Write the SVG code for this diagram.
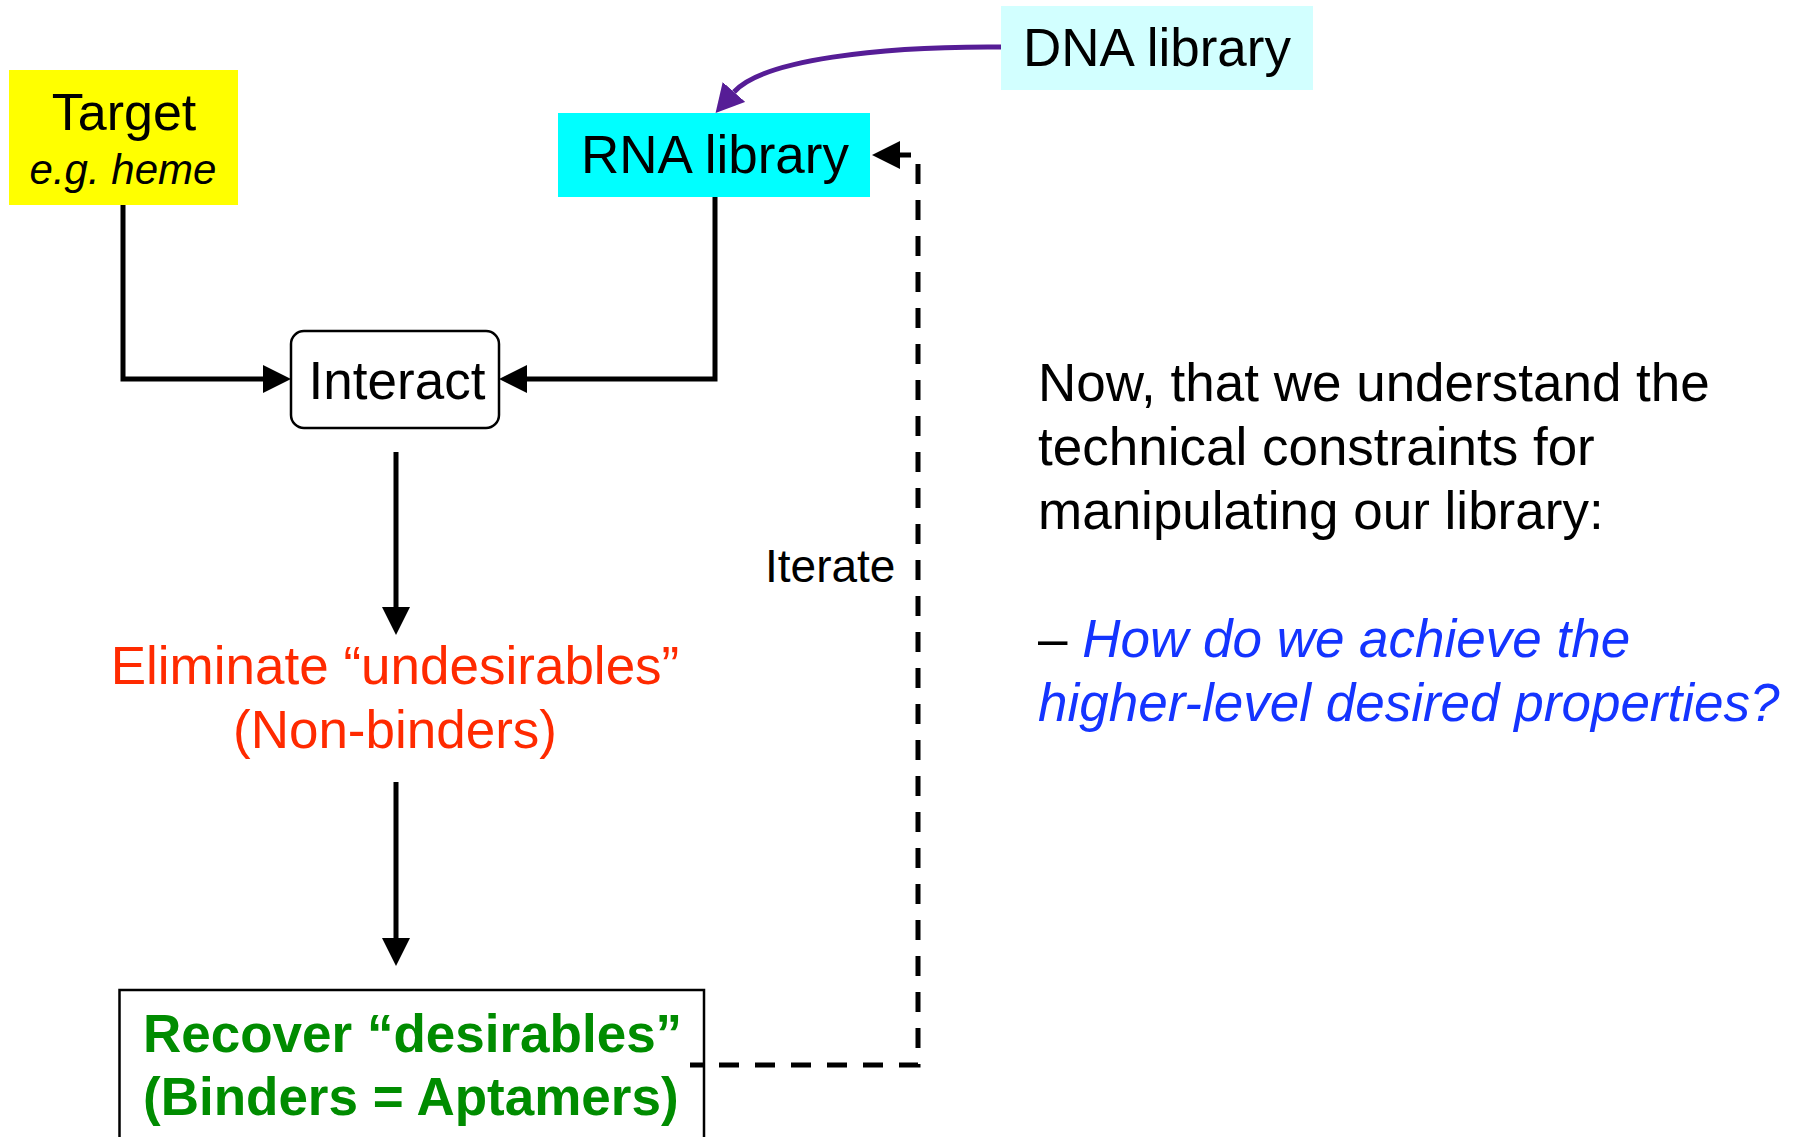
<svg xmlns="http://www.w3.org/2000/svg" width="1796" height="1137" viewBox="0 0 1796 1137">
  <style>
    text { font-family: "Liberation Sans", Arial, sans-serif; font-size: 53px; fill: #000; }
    .mid { text-anchor: middle; }
    .red { fill: #FF2A00; }
    .green { fill: #008C00; font-weight: bold; }
    .blue { fill: #1434FF; font-style: italic; }
    .wire { fill: none; stroke: #000; stroke-width: 5; }
    .purple { stroke: #561D96; }
    .dash { stroke-dasharray: 20 16; stroke-dashoffset: 7; }
    .box { fill: #fff; stroke: #000; stroke-width: 2.5; }
  </style>
  <defs>
    <marker id="arrow" markerUnits="userSpaceOnUse" markerWidth="28" markerHeight="28" viewBox="0 0 28 28" refX="0" refY="14" orient="auto">
      <path d="M0,0 L28,14 L0,28 z" fill="#000"/>
    </marker>
    <marker id="arrowPurple" markerUnits="userSpaceOnUse" markerWidth="28" markerHeight="30" viewBox="0 0 28 30" refX="0" refY="15" orient="auto">
      <path d="M0,0 L28,15 L0,30 z" fill="#561D96"/>
    </marker>
  </defs>

  <rect width="1796" height="1137" fill="#fff"/>

  <!-- nodes -->
  <g id="target">
    <rect x="9" y="70" width="229" height="135" fill="#FFFF00"/>
    <text class="mid" x="124" y="130" style="font-size:52px">Target</text>
    <text class="mid" x="123" y="184" style="font-size:42px;font-style:italic">e.g. heme</text>
  </g>

  <g id="rna-library">
    <rect x="558" y="113" width="312" height="84" fill="#00FFFF"/>
    <text class="mid" x="715" y="173">RNA library</text>
  </g>

  <g id="dna-library">
    <rect x="1001" y="6" width="312" height="84" fill="#D2FFFF"/>
    <text class="mid" x="1157" y="66">DNA library</text>
  </g>

  <g id="interact">
    <rect class="box" x="291" y="331" width="208" height="97" rx="13"/>
    <text class="mid" x="397" y="399">Interact</text>
  </g>

  <g id="eliminate">
    <text class="mid red" x="395" y="684">Eliminate “undesirables”</text>
    <text class="mid red" x="395" y="748">(Non-binders)</text>
  </g>

  <g id="recover">
    <rect class="box" x="119.5" y="990" width="584.5" height="170"/>
    <text class="green" x="143" y="1052">Recover “desirables”</text>
    <text class="green" x="143" y="1115">(Binders = Aptamers)</text>
  </g>

  <g id="iterate-label">
    <text x="765" y="582" style="font-size:46px">Iterate</text>
  </g>

  <g id="notes">
    <text x="1038" y="401">Now, that we understand the</text>
    <text x="1038" y="465">technical constraints for</text>
    <text x="1038" y="529">manipulating our library:</text>
    <text x="1038" y="657">– <tspan class="blue">How do we achieve the</tspan></text>
    <text class="blue" x="1038" y="721">higher-level desired properties?</text>
  </g>

  <!-- connectors -->
  <g id="connectors">
    <path class="wire" d="M123,205 V379 H263" marker-end="url(#arrow)"/>
    <path class="wire" d="M715,197 V379 H527" marker-end="url(#arrow)"/>
    <path class="wire" d="M396,452 V607" marker-end="url(#arrow)"/>
    <path class="wire" d="M396,782 V938" marker-end="url(#arrow)"/>
    <path class="wire purple" d="M1001,47 C880,46 762,60 734,92" marker-end="url(#arrowPurple)"/>
    <path class="wire dash" d="M690,1065 H918 V155 H900" marker-end="url(#arrow)"/>
  </g>
</svg>
